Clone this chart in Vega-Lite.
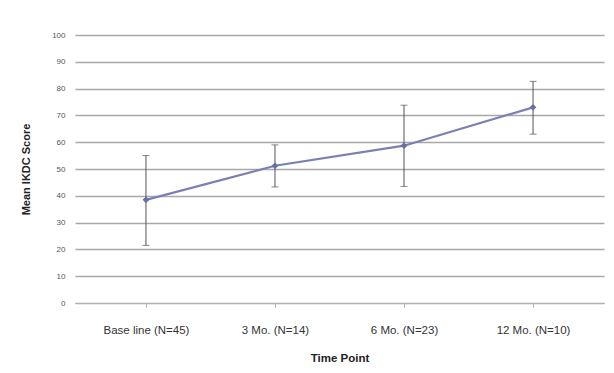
{
  "$schema": "https://vega.github.io/schema/vega-lite/v6.json",
  "width": 529,
  "height": 268,
  "autosize": {"type": "none"},
  "padding": {"left": 75, "top": 35, "right": 10, "bottom": 70},
  "background": "white",
  "config": {
    "view": {"stroke": null},
    "font": "Liberation Sans",
    "axisY": {"tickCount": 10, "grid": true, "gridColor": "#a8a8a8", "gridWidth": 1.5, "domain": false, "ticks": false,
      "labelPadding": 10, "labelFontSize": 8, "labelColor": "#555", "titleFontSize": 11, "titleFontWeight": "bold",
      "titleColor": "#222", "titlePadding": 20}
  },
  "data": {"values": [
    {"t": "Base line (N=45)", "mean": 38.5, "lo": 21.5, "hi": 55},
    {"t": "3 Mo. (N=14)", "mean": 51.2, "lo": 43.3, "hi": 59},
    {"t": "6 Mo. (N=23)", "mean": 58.7, "lo": 43.5, "hi": 73.8},
    {"t": "12 Mo. (N=10)", "mean": 73, "lo": 63, "hi": 82.7}
  ]},
  "encoding": {
    "x": {"field": "t", "type": "nominal", "sort": null,
      "scale": {"type": "point", "padding": 0.55},
      "axis": {"title": "Time Point", "labelAngle": 0, "labelFontSize": 11.5, "labelColor": "#333", "labelPadding": 17,
        "titleFontSize": 11.5, "titleFontWeight": "bold", "titleColor": "#222", "titlePadding": 17,
        "domainColor": "#b0b0b0", "tickColor": "#b0b0b0", "tickSize": 4, "ticks": true}}
  },
  "layer": [
    {
      "mark": {"type": "rule", "color": "#555", "strokeWidth": 1},
      "encoding": {
        "y": {"field": "lo", "type": "quantitative", "scale": {"domain": [0, 100]}, "title": "Mean IKDC Score"},
        "y2": {"field": "hi"}
      }
    },
    {
      "mark": {"type": "tick", "color": "#555", "size": 7, "thickness": 1, "orient": "horizontal"},
      "encoding": {"y": {"field": "lo", "type": "quantitative", "title": "Mean IKDC Score"}}
    },
    {
      "mark": {"type": "tick", "color": "#555", "size": 7, "thickness": 1, "orient": "horizontal"},
      "encoding": {"y": {"field": "hi", "type": "quantitative", "title": "Mean IKDC Score"}}
    },
    {
      "mark": {"type": "line", "color": "#7880b4", "strokeWidth": 2.2},
      "encoding": {"y": {"field": "mean", "type": "quantitative", "title": "Mean IKDC Score"}}
    },
    {
      "mark": {"type": "point", "shape": "diamond", "filled": true, "color": "#6a70a6", "size": 45, "opacity": 1},
      "encoding": {"y": {"field": "mean", "type": "quantitative", "title": "Mean IKDC Score"}}
    }
  ]
}
